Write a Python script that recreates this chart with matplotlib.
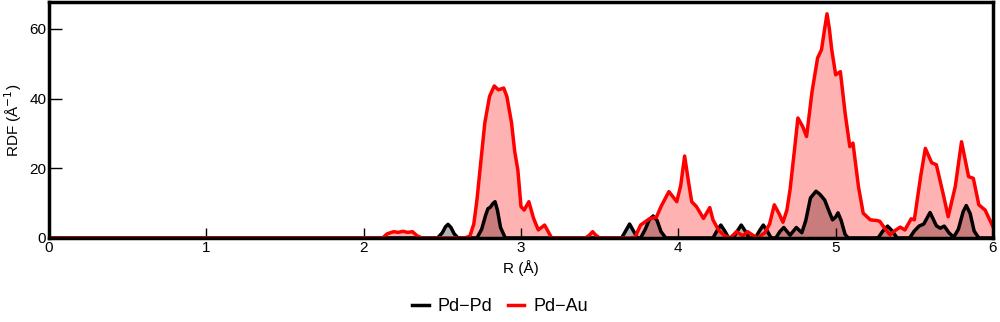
import numpy as np
import matplotlib.pyplot as plt

plt.rcParams['font.family'] = ['Liberation Sans', 'DejaVu Sans']

# Pd-Pd radial distribution
r_pdpd = [0.0, 2.47, 2.50, 2.52, 2.536, 2.555, 2.575, 2.60,
          2.72, 2.75, 2.775, 2.79, 2.805, 2.82, 2.835, 2.85, 2.87, 2.90,
          3.64, 3.665, 3.69, 3.715, 3.74,
          3.76, 3.79, 3.815, 3.84, 3.865, 3.89, 3.92,
          4.22, 4.245, 4.27, 4.295, 4.32,
          4.35, 4.375, 4.40, 4.425, 4.45,
          4.49, 4.515, 4.54, 4.565, 4.59,
          4.62, 4.645, 4.67, 4.71, 4.75, 4.785, 4.81, 4.84, 4.875, 4.90,
          4.93, 4.955, 4.98, 5.00, 5.015, 5.035, 5.06, 5.08,
          5.27, 5.30, 5.33, 5.36, 5.39,
          5.47, 5.50, 5.53, 5.56, 5.60, 5.64, 5.665, 5.69, 5.72, 5.75,
          5.78, 5.81, 5.83, 5.855, 5.88, 5.91, 6.0]
g_pdpd = [0.0, 0.0, 1.5, 3.2, 3.9, 3.0, 1.2, 0.0,
          0.0, 2.5, 6.5, 8.4, 8.8, 9.8, 10.4, 8.0, 3.0, 0.0,
          0.0, 2.0, 4.0, 2.0, 0.0,
          0.0, 2.5, 5.2, 6.3, 5.0, 1.8, 0.0,
          0.0, 2.0, 3.7, 2.0, 0.0,
          0.0, 2.0, 3.7, 2.0, 0.0,
          0.0, 2.0, 3.7, 2.0, 0.0,
          0.0, 1.8, 3.0, 0.8, 3.0, 1.5, 5.0, 11.5, 13.4, 12.5,
          10.9, 8.0, 5.2, 6.0, 7.2, 5.0, 1.0, 0.0,
          0.0, 2.0, 3.4, 2.0, 0.0,
          0.0, 2.0, 3.4, 4.0, 7.3, 3.5, 2.8, 3.4, 1.5, 0.2,
          2.5, 7.5, 9.3, 7.0, 2.0, 0.0, 0.0]

# Pd-Au radial distribution
r_pdau = [0.0, 2.12, 2.15, 2.19, 2.22, 2.25, 2.28, 2.31, 2.34, 2.37,
          2.64, 2.675, 2.70, 2.72, 2.745, 2.77, 2.80, 2.83, 2.856, 2.89,
          2.91, 2.94, 2.96, 2.98, 3.00, 3.02, 3.05, 3.08, 3.11, 3.15, 3.195,
          3.41, 3.435, 3.455, 3.475, 3.50,
          3.69, 3.725, 3.76, 3.82, 3.86, 3.89, 3.94, 3.99, 4.015, 4.04, 4.065,
          4.085, 4.115, 4.16, 4.20, 4.22, 4.255, 4.29, 4.33, 4.37, 4.41,
          4.44, 4.50, 4.55, 4.58, 4.61, 4.64, 4.665, 4.69, 4.71, 4.74,
          4.76, 4.79, 4.815, 4.85, 4.885, 4.91, 4.93, 4.945, 4.96, 4.975,
          5.00, 5.03, 5.06, 5.09, 5.11, 5.145, 5.175, 5.22, 5.26, 5.28,
          5.31, 5.345, 5.38, 5.41, 5.44, 5.48, 5.50, 5.54, 5.57, 5.61,
          5.64, 5.685, 5.715, 5.76, 5.80, 5.845, 5.875, 5.91, 5.95, 6.0]
g_pdau = [0.0, 0.0, 1.2, 1.8, 1.6, 1.9, 1.6, 1.8, 0.6, 0.0,
          0.0, 0.5, 4.0, 10.9, 22.0, 33.0, 40.6, 43.6, 42.5, 43.0,
          40.6, 33.0, 24.8, 19.5, 9.0, 8.0, 10.4, 5.6, 2.3, 3.7, 0.0,
          0.0, 0.8, 1.8, 0.8, 0.0,
          0.0, 0.2, 3.7, 5.6, 5.9, 9.0, 13.3, 10.4, 15.0, 23.5, 16.0,
          10.4, 9.0, 5.6, 8.7, 5.2, 2.3, 0.8, 0.0, 1.8, 0.6,
          1.8, 0.0, 1.5, 4.0, 9.5, 7.0, 4.5, 8.0, 13.8, 26.0,
          34.4, 32.0, 29.1, 42.0, 51.6, 54.0, 60.0, 64.3, 60.0, 54.0,
          46.8, 47.7, 35.8, 26.2, 27.2, 14.7, 7.1, 5.2, 5.0, 4.8,
          2.9, 0.9, 2.2, 3.1, 2.3, 5.5, 5.2, 17.6, 25.7, 21.6,
          21.0, 12.3, 6.1, 14.7, 27.6, 17.6, 17.1, 9.5, 8.0, 3.2]

fig = plt.figure(figsize=(10, 3.22), dpi=100)
ax = fig.add_axes([0.049, 0.261, 0.944, 0.733])

# Pd-Pd underneath, Pd-Au fill drawn over it
ax.fill_between(r_pdpd, g_pdpd, 0, color='black', alpha=0.3, linewidth=0)
ax.plot(r_pdpd, g_pdpd, color='black', linewidth=2.5, label='Pd\u2212Pd')
ax.fill_between(r_pdau, g_pdau, 0, color='red', alpha=0.3, linewidth=0)
ax.plot(r_pdau, g_pdau, color='red', linewidth=2.5, label='Pd\u2212Au')

ax.set_xlim(0, 6)
ax.set_ylim(0, 67.7)
ax.set_xticks([0, 1, 2, 3, 4, 5, 6])
ax.set_yticks([0, 20, 40, 60])
ax.tick_params(axis='y', direction='in', length=9, width=1, labelsize=11, pad=2)
ax.tick_params(axis='x', direction='in', length=7, width=1, labelsize=11, pad=2)
for s in ax.spines.values():
    s.set_linewidth(2.5)
ax.set_xlabel('R (\u00c5)', fontsize=11, labelpad=4)
ax.set_ylabel('RDF (\u00c5$^{-1}$)', fontsize=11, labelpad=4)

fig.legend(loc='center', bbox_to_anchor=(0.5, 0.047), ncol=2, frameon=False,
           fontsize=13, handlelength=0.9, handletextpad=0.5, columnspacing=0.85)

fig.savefig('out.png', dpi=100)
